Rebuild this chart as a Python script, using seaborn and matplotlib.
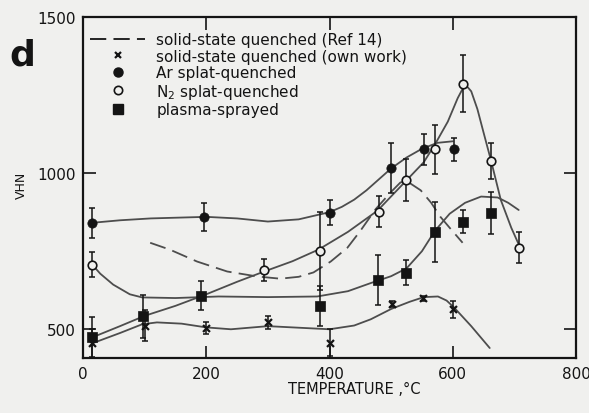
import matplotlib
matplotlib.use("Agg")
import matplotlib.pyplot as plt
from matplotlib.lines import Line2D
import seaborn as sns
import pandas as pd

# ---- measured hardness values (VHN) with error half-widths ----
ar_temp = [15, 197, 400, 499, 553, 602]
ar_hv = [841, 860, 873, 1016, 1076, 1076]
ar_err = [48, 45, 40, 80, 50, 37]

n2_temp = [15, 294, 384, 480, 524, 571, 617, 662, 708]
n2_hv = [707, 691, 752, 876, 978, 1076, 1287, 1038, 761]
n2_err = [40, 35, 125, 50, 68, 78, 90, 57, 50]

plasma_temp = [15, 97, 192, 384, 478, 524, 571, 616, 662]
plasma_hv = [474, 541, 608, 573, 659, 681, 812, 844, 873]
plasma_err = [65, 70, 45, 64, 80, 40, 95, 37, 68]

own_temp = [15, 100, 200, 300, 400, 502, 551, 600]
own_hv = [455, 512, 503, 522, 457, 580, 599, 564]
own_err = [45, 50, 19, 22, 43, 10, 8, 27]

# ---- hand-drawn trend curves ----
ref_curve_t = [109, 141, 185, 234, 283, 320, 350, 374, 402, 429, 450, 475, 500,
               515, 525, 548, 565, 580, 595, 616]
ref_curve_v = [777, 755, 717, 685, 669, 662, 668, 682, 717, 761, 815, 885, 940,
               970, 975, 945, 905, 860, 825, 777]

ar_curve_t = [15, 60, 110, 200, 250, 300, 350, 400, 420, 440, 460, 480, 500,
              525, 550, 575, 600]
ar_curve_v = [841, 849, 855, 860, 855, 845, 852, 875, 892, 915, 945, 980, 1015,
              1050, 1078, 1097, 1102]

n2_curve_t = [20, 60, 100, 150, 200, 250, 294, 340, 382, 430, 478, 524, 553,
              572, 592, 608, 620, 630, 640, 650, 662, 678, 695, 712]
n2_curve_v = [478, 510, 543, 575, 612, 652, 685, 718, 755, 812, 880, 975, 1035,
              1095, 1165, 1240, 1285, 1262, 1205, 1130, 1041, 914, 825, 750]

plasma_curve_t = [15, 28, 49, 76, 96, 150, 220, 300, 380, 430, 467, 500, 525,
                  550, 571, 595, 620, 646, 673, 690, 707]
plasma_curve_v = [707, 678, 643, 612, 602, 600, 605, 603, 605, 622, 648, 670,
                  695, 750, 815, 870, 905, 925, 922, 905, 882]

own_curve_t = [15, 60, 96, 120, 160, 200, 240, 300, 350, 400, 440, 467, 500,
               530, 553, 576, 590, 602, 630, 660]
own_curve_v = [455, 488, 516, 522, 518, 506, 500, 510, 505, 500, 512, 532, 565,
               588, 603, 605, 592, 570, 510, 440]

x_ticks = [0, 200, 400, 600, 800]
y_ticks = [500, 1000, 1500]

legend_labels = [
    "solid-state quenched (Ref 14)",
    "solid-state quenched (own work)",
    "Ar splat-quenched",
    "N$_2$ splat-quenched",
    "plasma-sprayed",
]

BG = "#f0f0ee"
INK = "#141414"
CURVE = "#4d4d4d"

sns.set_style("ticks")
plt.rcParams["font.family"] = ["DejaVu Sans"]

fig = plt.figure(figsize=(5.89, 4.14), dpi=100, facecolor=BG)
ax = fig.add_axes([83 / 589, 1 - 359 / 414, (576 - 83) / 589, (359 - 18) / 414])
ax.set_facecolor(BG)


def curve(t, v, **kw):
    df = pd.DataFrame({"temp": t, "hv": v})
    sns.lineplot(data=df, x="temp", y="hv", sort=False, estimator=None,
                 ax=ax, color=CURVE, lw=1.3, zorder=2, **kw)


curve(ref_curve_t, ref_curve_v, linestyle=(0, (9, 4)))
curve(ar_curve_t, ar_curve_v)
curve(n2_curve_t, n2_curve_v)
curve(plasma_curve_t, plasma_curve_v)
curve(own_curve_t, own_curve_v)

eb = dict(fmt="none", ecolor=INK, elinewidth=1.1, capsize=2.5, capthick=1.1, zorder=3)
ax.errorbar(ar_temp, ar_hv, yerr=ar_err, **eb)
ax.errorbar(n2_temp, n2_hv, yerr=n2_err, **eb)
ax.errorbar(plasma_temp, plasma_hv, yerr=plasma_err, **eb)
ax.errorbar(own_temp, own_hv, yerr=own_err, **eb)

sns.scatterplot(x=plasma_temp, y=plasma_hv, marker="s", s=58, color=INK,
                edgecolor=INK, linewidth=0.5, ax=ax, zorder=4)
sns.scatterplot(x=ar_temp, y=ar_hv, marker="o", s=45, color=INK,
                edgecolor=INK, linewidth=0.5, ax=ax, zorder=4)
sns.scatterplot(x=n2_temp, y=n2_hv, marker="o", s=38, color=BG,
                edgecolor=INK, linewidth=1.2, ax=ax, zorder=4)
sns.scatterplot(x=own_temp, y=own_hv, marker="x", s=25, color=INK,
                linewidth=1.6, ax=ax, zorder=4)

ax.set_xlim(0, 800)
ax.set_ylim(408, 1500)
ax.set_xticks(x_ticks)
ax.set_yticks(y_ticks)
ax.tick_params(direction="in", length=9, width=1.2, colors=INK,
               top=True, right=True, labelsize=11, pad=5)
ax.tick_params(axis="x", pad=6)
for s in ax.spines.values():
    s.set_color(INK)
    s.set_linewidth(1.6)

ax.set_xlabel("TEMPERATURE ,°C", fontsize=10.5, color=INK)
ax.xaxis.set_label_coords(0.55, -0.067)
ax.set_ylabel("VHN", fontsize=9, color=INK)
ax.yaxis.set_label_coords(-0.112, 0.51)

fig.text(22 / 589, 1 - 56 / 414, "d", fontsize=26, fontweight="bold",
         ha="center", va="center", color=INK)

handles = [
    Line2D([], [], color=INK, lw=1.3, linestyle=(0, (9, 4))),
    Line2D([], [], color=INK, marker="x", ls="none", ms=5, mew=1.6),
    Line2D([], [], color=INK, marker="o", ls="none", ms=6.5),
    Line2D([], [], color=INK, marker="o", ls="none", ms=6, mfc=BG, mew=1.2),
    Line2D([], [], color=INK, marker="s", ls="none", ms=7),
]
leg = ax.legend(handles, legend_labels, loc="upper left",
                bbox_to_anchor=((90 - 83) / 493, 1 - (33 - 18) / 341),
                frameon=False, fontsize=11, handlelength=3.6,
                handletextpad=0.75, labelspacing=0.1, borderpad=0,
                borderaxespad=0)
for txt in leg.get_texts():
    txt.set_color(INK)

fig.savefig("out.png", dpi=100, facecolor=BG)
